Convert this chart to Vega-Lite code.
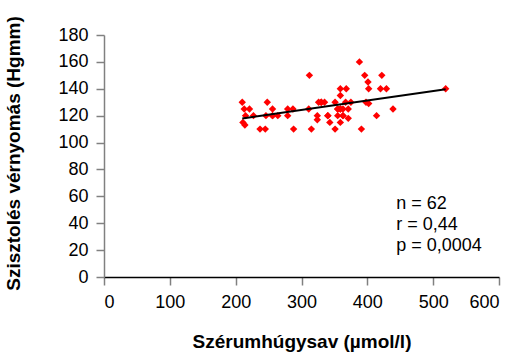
{
  "$schema": "https://vega.github.io/schema/vega-lite/v6.json",
  "autosize": {"type": "none"},
  "padding": {"left": 104, "top": 35, "right": 16, "bottom": 79},
  "width": 395,
  "height": 242,
  "background": "white",
  "config": {
    "view": {"stroke": null},
    "font": "Liberation Sans",
    "axis": {"grid": false, "labelFont": "Liberation Sans", "titleFont": "Liberation Sans", "labelFontSize": 18, "labelColor": "#000000", "titleFontSize": 19, "titleFontWeight": "bold", "titleColor": "#000000", "tickSize": 8, "tickColor": "#808080", "tickWidth": 1.5}
  },
  "datasets": {
    "points": [
      {"x": 210, "y": 130}, {"x": 213, "y": 125}, {"x": 221, "y": 125}, {"x": 215, "y": 120},
      {"x": 227, "y": 120}, {"x": 211, "y": 115}, {"x": 214, "y": 113}, {"x": 237, "y": 110},
      {"x": 245, "y": 110}, {"x": 248, "y": 130}, {"x": 256, "y": 125}, {"x": 246, "y": 120},
      {"x": 256, "y": 120}, {"x": 264, "y": 120}, {"x": 279, "y": 125}, {"x": 287, "y": 125},
      {"x": 279, "y": 120}, {"x": 288, "y": 110}, {"x": 312, "y": 150}, {"x": 311, "y": 125},
      {"x": 315, "y": 110}, {"x": 326, "y": 130}, {"x": 330, "y": 130}, {"x": 335, "y": 130},
      {"x": 324, "y": 120}, {"x": 324, "y": 117}, {"x": 340, "y": 120}, {"x": 343, "y": 115},
      {"x": 351, "y": 130}, {"x": 351, "y": 110}, {"x": 355, "y": 125}, {"x": 359, "y": 125},
      {"x": 363, "y": 125}, {"x": 355, "y": 120}, {"x": 363, "y": 120}, {"x": 359, "y": 115},
      {"x": 359, "y": 140}, {"x": 368, "y": 140}, {"x": 359, "y": 135}, {"x": 367, "y": 130},
      {"x": 375, "y": 130}, {"x": 371, "y": 125}, {"x": 371, "y": 118}, {"x": 398, "y": 130},
      {"x": 402, "y": 129}, {"x": 388, "y": 160}, {"x": 396, "y": 150}, {"x": 422, "y": 150},
      {"x": 401, "y": 145}, {"x": 402, "y": 140}, {"x": 420, "y": 140}, {"x": 429, "y": 140},
      {"x": 439, "y": 125}, {"x": 414, "y": 120}, {"x": 391, "y": 110}, {"x": 519, "y": 140},
      {"x": 359, "y": 125}, {"x": 363, "y": 120}, {"x": 256, "y": 120}, {"x": 355, "y": 125},
      {"x": 340, "y": 120}, {"x": 330, "y": 130}
    ],
    "fit": [{"x": 210, "y": 117.9}, {"x": 519, "y": 139.7}],
    "stats": [
      {"x": 444, "y": 50.8, "label": "n = 62"},
      {"x": 444, "y": 34.7, "label": "r = 0,44"},
      {"x": 444, "y": 19.6, "label": "p = 0,0004"}
    ]
  },
  "layer": [
    {
      "data": {"name": "points"},
      "mark": {"type": "point", "shape": "diamond", "filled": true, "color": "#FF0000", "size": 55, "opacity": 1},
      "encoding": {
        "x": {"field": "x", "type": "quantitative", "scale": {"domain": [0, 600], "nice": false}, "axis": {"values": [0, 100, 200, 300, 400, 500, 600], "tickCount": 7, "labelOverlap": false, "title": "Szérumhúgysav (µmol/l)", "domainColor": "#000000", "domainWidth": 1.5, "labelPadding": 8, "titlePadding": 21}},
        "y": {"field": "y", "type": "quantitative", "scale": {"domain": [0, 180], "nice": false}, "axis": {"values": [0, 20, 40, 60, 80, 100, 120, 140, 160, 180], "tickCount": 10, "labelOverlap": false, "title": "Szisztolés vérnyomás (Hgmm)", "domainColor": "#808080", "domainWidth": 1.5, "labelPadding": 8, "titleX": -91, "titleY": 118, "titleAlign": "center", "titleBaseline": "middle"}}
      }
    },
    {
      "data": {"name": "fit"},
      "mark": {"type": "line", "color": "#000000", "strokeWidth": 2},
      "encoding": {
        "x": {"field": "x", "type": "quantitative"},
        "y": {"field": "y", "type": "quantitative"}
      }
    },
    {
      "data": {"name": "stats"},
      "mark": {"type": "text", "align": "left", "baseline": "alphabetic", "fontSize": 18, "font": "Liberation Sans", "color": "#000000"},
      "encoding": {
        "x": {"field": "x", "type": "quantitative"},
        "y": {"field": "y", "type": "quantitative"},
        "text": {"field": "label"}
      }
    }
  ]
}
